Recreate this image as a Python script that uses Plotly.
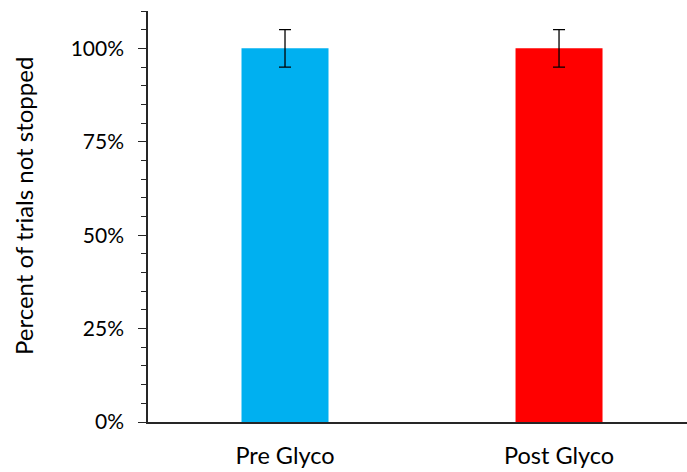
import plotly.graph_objects as go

categories = ["Pre Glyco", "Post Glyco"]
values = [100, 100]
errors = [5, 5]
colors = ["#00B0F0", "#FF0000"]
y_tickvals = [0, 25, 50, 75, 100]
y_ticktext = ["0%", "25%", "50%", "75%", "100%"]
y_title = "Percent of trials not stopped"

FONT = "Lato, Calibri, Carlito, sans-serif"

fig = go.Figure()
fig.add_trace(go.Bar(
    x=categories, y=values,
    marker=dict(color=colors, line=dict(width=0)),
    width=0.3175,
    error_y=dict(type="data", array=errors, visible=True,
                 color="#000000", thickness=1.3, width=6),
))

fig.update_layout(
    width=687, height=472,
    margin=dict(l=148, r=0, t=11, b=50),
    paper_bgcolor="white", plot_bgcolor="white",
    showlegend=False,
    font=dict(family=FONT, color="#000000", size=20),
    xaxis=dict(
        range=[-0.5, 1.467],
        showline=True, linecolor="#262626", linewidth=1.5,
        ticks="", showgrid=False, zeroline=False,
        tickfont=dict(size=23.5, family=FONT, color="#000000"),
        ticklabelstandoff=12,
    ),
    yaxis=dict(
        range=[0, 110],
        showline=True, linecolor="#262626", linewidth=1.5,
        tickmode="array", tickvals=y_tickvals, ticktext=y_ticktext,
        ticks="outside", ticklen=8, tickwidth=1.3, tickcolor="#262626",
        minor=dict(dtick=5, ticks="outside", ticklen=5, tickwidth=1, tickcolor="#262626", showgrid=False),
        showgrid=False, zeroline=False,
        tickfont=dict(size=21, family=FONT, color="#000000"),
        ticklabelstandoff=10,
    ),
    annotations=[dict(
        text=y_title, textangle=-90,
        xref="paper", yref="paper",
        x=(23 - 148) / 539, y=(422 - 206) / 411,
        xanchor="center", yanchor="middle",
        showarrow=False,
        font=dict(size=24, family=FONT, color="#000000"),
    )],
)

fig.write_html("out.html")
